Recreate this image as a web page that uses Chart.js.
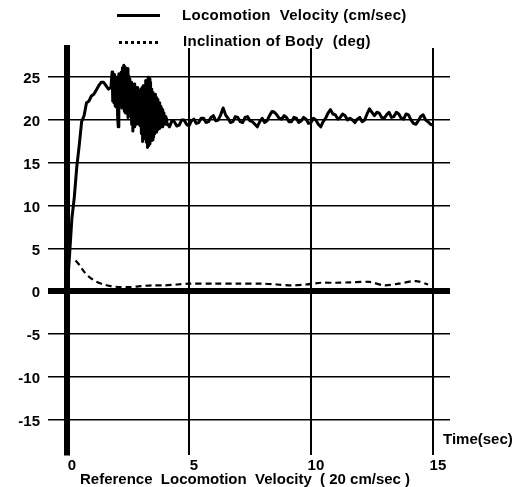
<!DOCTYPE html>
<html>
<head>
<meta charset="utf-8">
<script src="https://cdn.jsdelivr.net/npm/chart.js@4"></script>
<style>
  html, body { margin: 0; padding: 0; background: #fff; }
  #wrap { position: relative; width: 524px; height: 487px; overflow: hidden; }
  #c { position: absolute; left: 0; top: 0; }
  .txt { position: absolute; font-family: "Liberation Sans", Arial, sans-serif; font-weight: bold; font-size: 15px; color: #000; white-space: pre; line-height: 1; }
  .sw { position: absolute; height: 0; }
</style>
</head>
<body>
<div id="wrap">
  <canvas id="c" width="524" height="487"></canvas>
  <div class="sw" style="left:117px; top:14px; width:43px; border-top:3px solid #000;"></div>
  <div class="txt" style="left:182px; top:7px; letter-spacing:0.3px;">Locomotion  Velocity (cm/sec)</div>
  <div class="sw" style="left:119px; top:41px; width:39px; border-top:3px dotted #000;"></div>
  <div class="txt" style="left:183px; top:33px; letter-spacing:0.3px;">Inclination of Body  (deg)</div>
  <div class="txt" style="left:443px; top:431px;">Time(sec)</div>
  <div class="txt" style="left:80px; top:471px;">Reference  Locomotion  Velocity  ( 20 cm/sec )</div>
</div>
<script>
// ---- data ----
// Locomotion velocity: start-up rise
const riseTime = [0.00,0.10,0.20,0.30,0.40,0.50,0.60,0.70,0.80,0.90,
                  1.00,1.10,1.20,1.30,1.40,1.50,1.60,1.70,1.80];
const riseVel  = [0,4,8.5,11,14.5,17,19.8,20.5,22,22.2,
                  22.8,23,23.5,24,24.4,24.4,24,23.6,23.8];
// Locomotion velocity: oscillating burst
const burstTime = [1.850,1.875,1.900,1.925,1.950,1.975,2.000,2.025,2.050,2.075,
                   2.100,2.125,2.150,2.175,2.200,2.225,2.250,2.275,2.300,2.325,
                   2.350,2.375,2.400,2.425,2.450,2.475,2.500,2.525,2.550,2.575,
                   2.600,2.625,2.650,2.675,2.700,2.725,2.750,2.775,2.800,2.825,
                   2.850,2.875,2.900,2.925,2.950,2.975,3.000,3.025,3.050,3.075,
                   3.100,3.125,3.150,3.175,3.200,3.225,3.250,3.275,3.300,3.325,
                   3.350,3.375,3.400,3.425,3.450,3.475,3.500,3.525,3.550,3.575,
                   3.600,3.625,3.650,3.675,3.700,3.725,3.750,3.775,3.800,3.825,
                   3.850,3.875,3.900,3.925,3.950,3.975,4.000,4.025,4.050,4.075,
                   4.100];
const burstVel  = [25.6,22.2,25.1,22.0,25.3,21.6,24.8,21.5,25.0,20.4,
                   19.2,25.4,21.8,25.0,22.0,25.6,21.4,26.1,21.6,26.4,
                   21.0,26.2,20.8,25.8,21.2,26.0,20.3,25.2,20.6,24.8,
                   20.4,24.4,19.5,24.2,18.7,23.8,19.2,24.2,19.6,23.6,
                   19.5,23.8,19.8,23.2,19.5,23.4,19.3,23.6,18.4,23.8,
                   17.5,24.0,18.2,23.6,17.8,24.6,17.4,24.2,16.8,25.0,
                   17.0,24.8,17.2,24.4,17.6,23.6,17.7,23.2,18.0,22.8,
                   18.4,23.0,18.6,22.6,18.9,22.4,19.0,22.0,19.0,21.6,
                   19.3,21.4,19.2,21.2,19.5,20.8,19.6,20.4,19.5,20.2,
                   19.6];
// Locomotion velocity: steady state around 20 cm/sec
const steadyTime = [4.2,4.3,4.4,4.5,4.6,4.7,4.8,4.9,
                    5.0,5.1,5.2,5.3,5.4,5.5,5.6,5.7,5.8,5.9,
                    6.0,6.1,6.2,6.3,6.4,6.5,6.6,6.7,6.8,6.9,
                    7.0,7.1,7.2,7.3,7.4,7.5,7.6,7.7,7.8,7.9,
                    8.0,8.1,8.2,8.3,8.4,8.5,8.6,8.7,8.8,8.9,
                    9.0,9.1,9.2,9.3,9.4,9.5,9.6,9.7,9.8,9.9,
                    10.0,10.1,10.2,10.3,10.4,10.5,10.6,10.7,10.8,10.9,
                    11.0,11.1,11.2,11.3,11.4,11.5,11.6,11.7,11.8,11.9,
                    12.0,12.1,12.2,12.3,12.4,12.5,12.6,12.7,12.8,12.9,
                    13.0,13.1,13.2,13.3,13.4,13.5,13.6,13.7,13.8,13.9,
                    14.0,14.1,14.2,14.3,14.4,14.5,14.6,14.7,14.8,14.9,
                    15.0];
const steadyVel  = [19.2,19.9,19.8,19.3,19.4,20.0,20.0,19.5,
                    19.3,19.9,20.1,19.6,19.7,20.2,20.2,19.7,19.8,20.3,
                    20.5,19.9,20.0,20.6,21.4,20.6,20.2,19.7,19.8,20.4,
                    20.3,19.8,19.7,20.3,20.4,19.9,19.8,19.5,19.2,19.8,
                    20.2,19.7,19.9,20.5,21.0,20.9,20.6,20.2,20.1,20.5,
                    20.3,19.8,19.8,20.3,20.2,19.7,19.9,20.3,20.1,19.6,
                    19.7,20.2,20.0,19.5,19.2,19.8,20.2,20.8,21.2,20.7,
                    20.6,20.1,20.3,20.7,20.5,20.0,20.2,20.0,19.7,20.1,
                    20.3,19.8,20.0,20.7,21.3,20.9,20.5,20.9,20.8,20.3,
                    20.2,20.6,20.9,20.3,20.4,20.9,20.7,20.2,20.1,20.7,
                    20.6,20.0,19.6,19.5,19.9,20.4,20.6,20.0,19.8,19.5,
                    19.4];
// Inclination of body
const incTime = [0.35,0.5,0.7,0.9,1.1,1.3,1.5,1.8,2.2,2.6,3.0,3.5,4.0,4.5,5.0,6.0,7.0,8.0,8.6,9.2,9.8,10.4,11.0,11.6,12.4,13.0,13.6,14.3,14.8];
const inclination = [3.6,3.1,2.3,1.7,1.3,1.0,0.8,0.6,0.5,0.5,0.6,0.7,0.7,0.8,0.9,0.9,0.9,0.9,0.8,0.7,0.8,1.0,1.0,1.05,1.1,0.7,0.9,1.2,0.8];
// axis ticks
const xTicks = [0, 5, 10, 15];
const yTicks = [-15, -10, -5, 0, 5, 10, 15, 20, 25];

const velTime = riseTime.concat(burstTime, steadyTime);
const velocity = riseVel.concat(burstVel, steadyVel);

const FONT = { family: '"Liberation Sans", Arial, sans-serif', size: 15, weight: 'bold' };

new Chart(document.getElementById('c'), {
  type: 'line',
  data: {
    datasets: [
      {
        label: 'Locomotion Velocity (cm/sec)',
        data: velTime.map((t, i) => ({ x: t, y: velocity[i] })),
        borderColor: '#000', borderWidth: 3, pointRadius: 0, tension: 0, fill: false,
        borderJoinStyle: 'round'
      },
      {
        label: 'Inclination of Body (deg)',
        data: incTime.map((t, i) => ({ x: t, y: inclination[i] })),
        borderColor: '#000', borderWidth: 2.2, borderDash: [6, 4], pointRadius: 0, tension: 0.3, fill: false
      }
    ]
  },
  options: {
    responsive: false,
    devicePixelRatio: 1,
    animation: false,
    layout: { padding: { left: 0, right: 74, top: 48, bottom: 12 } },
    plugins: { legend: { display: false }, tooltip: { enabled: false } },
    scales: {
      x: {
        type: 'linear', min: 0, max: 15.7,
        afterBuildTicks: (s) => { s.ticks = xTicks.map(v => ({ value: v })); },
        afterFit: (s) => { s.height = 20; },
        border: { display: false },
        grid: { color: '#000', lineWidth: 2, drawTicks: false },
        ticks: { color: '#000', font: FONT, padding: 2, labelOffset: 5, maxRotation: 0 }
      },
      y: {
        type: 'linear', min: -19.1, max: 28.4,
        afterBuildTicks: (s) => { s.ticks = yTicks.map(v => ({ value: v })); },
        afterFit: (s) => { s.width = 67; },
        border: { display: true, color: '#000', width: 6 },
        grid: {
          color: '#000',
          lineWidth: (ctx) => (ctx.tick && ctx.tick.value === 0 ? 6 : 1.5),
          drawTicks: true, tickLength: 19
        },
        ticks: { color: '#000', font: FONT, padding: 8, labelOffset: 2 }
      }
    }
  }
});
</script>
</body>
</html>
